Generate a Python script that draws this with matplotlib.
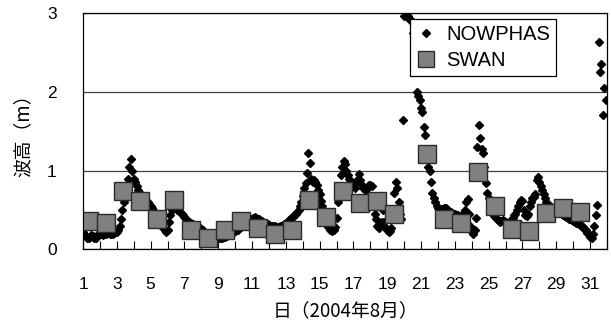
import numpy as np
import matplotlib
matplotlib.use("Agg")
from matplotlib import pyplot as plt

plt.rcParams['font.family'] = ['Liberation Sans', 'Noto Sans CJK JP']

# NOWPHAS observed wave height (m), every 2 hours, one row per day (Aug 2004)
nowphas_hs = [
    [0.22, 0.19, 0.17, 0.15, 0.14, 0.16, 0.18, 0.17, 0.15, 0.14, 0.17, 0.20],  # 1
    [0.21, 0.20, 0.18, 0.19, 0.20, 0.22, 0.21, 0.20, 0.19, 0.20, 0.21, 0.22],  # 2
    [0.22, 0.25, 0.30, 0.38, 0.50, 0.60, 0.68, 0.76, 0.90, 1.05, 1.15, 1.00],  # 3
    [0.90, 0.85, 0.80, 0.75, 0.72, 0.70, 0.68, 0.66, 0.64, 0.62, 0.60, 0.57],  # 4
    [0.55, 0.52, 0.50, 0.46, 0.42, 0.40, 0.37, 0.34, 0.30, 0.27, 0.24, 0.22],  # 5
    [0.25, 0.35, 0.44, 0.50, 0.52, 0.53, 0.52, 0.50, 0.49, 0.47, 0.45, 0.43],  # 6
    [0.41, 0.39, 0.37, 0.35, 0.34, 0.33, 0.32, 0.31, 0.30, 0.29, 0.28, 0.27],  # 7
    [0.26, 0.24, 0.22, 0.20, 0.19, 0.18, 0.17, 0.16, 0.15, 0.15, 0.14, 0.14],  # 8
    [0.14, 0.14, 0.15, 0.15, 0.16, 0.16, 0.17, 0.18, 0.19, 0.20, 0.21, 0.22],  # 9
    [0.23, 0.24, 0.25, 0.27, 0.28, 0.30, 0.31, 0.33, 0.34, 0.35, 0.37, 0.38],  # 10
    [0.39, 0.40, 0.41, 0.40, 0.39, 0.38, 0.37, 0.36, 0.35, 0.34, 0.33, 0.32],  # 11
    [0.31, 0.30, 0.30, 0.29, 0.29, 0.28, 0.28, 0.28, 0.29, 0.30, 0.31, 0.32],  # 12
    [0.33, 0.35, 0.37, 0.38, 0.40, 0.41, 0.43, 0.45, 0.48, 0.50, 0.55, 0.60],  # 13
    [0.68, 0.78, 0.84, 0.97, 1.22, 1.10, 0.90, 0.85, 0.88, 0.86, 0.82, 0.75],  # 14
    [0.70, 0.62, 0.55, 0.47, 0.40, 0.33, 0.28, 0.25, 0.24, 0.23, 0.24, 0.28],  # 15
    [0.40, 0.60, 0.80, 0.95, 1.05, 1.12, 1.08, 1.00, 0.95, 0.90, 0.85, 0.82],  # 16
    [0.80, 0.78, 0.85, 0.90, 0.96, 0.88, 0.82, 0.78, 0.75, 0.76, 0.80, 0.82],  # 17
    [0.82, 0.80, 0.60, 0.45, 0.38, 0.30, 0.27, 0.30, 0.35, 0.50, 0.35, 0.27],  # 18
    [0.24, 0.22, 0.23, 0.27, 0.40, 0.72, 0.85, 0.78, 0.60, 0.45, 0.38, 1.64],  # 19
    [2.96, 2.98, 2.95, 2.97, 2.93, 2.90, 2.75, 2.56, 2.28, 2.00, 1.95, 1.90],  # 20
    [1.80, 1.75, 1.55, 1.45, 1.20, 1.05, 1.00, 0.85, 0.72, 0.65, 0.60, 0.55],  # 21
    [0.52, 0.50, 0.50, 0.51, 0.52, 0.53, 0.52, 0.50, 0.48, 0.47, 0.46, 0.45],  # 22
    [0.45, 0.44, 0.43, 0.42, 0.42, 0.43, 0.45, 0.50, 0.60, 0.64, 0.45, 0.30],  # 23
    [0.22, 0.20, 0.25, 0.40, 1.30, 1.58, 1.42, 1.28, 1.22, 1.05, 0.84, 0.72],  # 24
    [0.65, 0.58, 0.52, 0.47, 0.42, 0.40, 0.38, 0.36, 0.35, 0.36, 0.37, 0.36],  # 25
    [0.35, 0.34, 0.34, 0.35, 0.37, 0.40, 0.43, 0.45, 0.50, 0.55, 0.60, 0.63],  # 26
    [0.62, 0.50, 0.43, 0.42, 0.45, 0.55, 0.60, 0.65, 0.67, 0.70, 0.88, 0.92],  # 27
    [0.85, 0.80, 0.75, 0.70, 0.65, 0.60, 0.58, 0.56, 0.54, 0.52, 0.50, 0.50],  # 28
    [0.49, 0.48, 0.47, 0.46, 0.45, 0.43, 0.42, 0.41, 0.40, 0.39, 0.38, 0.37],  # 29
    [0.36, 0.35, 0.34, 0.33, 0.32, 0.31, 0.30, 0.28, 0.26, 0.24, 0.21, 0.19],  # 30
    [0.16, 0.15, 0.20, 0.29, 0.44, 0.56, 2.64, 2.25, 2.35, 1.71, 2.05, 1.90],  # 31
]

# SWAN computed wave height (m), once a day at 09:00 (no value on the 20th and 31st)
swan_day = [1, 2, 3, 4, 5, 6, 7, 8, 9, 10, 11, 12, 13, 14, 15, 16, 17, 18, 19,
            21, 22, 23, 24, 25, 26, 27, 28, 29, 30]
swan_hour = 9
swan_hs = [0.36, 0.34, 0.745, 0.61, 0.38, 0.63, 0.25, 0.14, 0.245, 0.36, 0.27,
           0.19, 0.24, 0.63, 0.41, 0.745, 0.585, 0.61, 0.445,
           1.21, 0.38, 0.34, 0.98, 0.555, 0.26, 0.23, 0.465, 0.52, 0.48]

x_labels = [str(d) for d in range(1, 32, 2)]

nowphas = np.array(nowphas_hs)
n_days, per_day = nowphas.shape
t_obs = (np.arange(1, n_days + 1)[:, None] + np.arange(per_day)[None, :] / per_day).ravel()
t_swan = np.array(swan_day) + swan_hour / 24

fig = plt.figure(figsize=(6.11, 3.31), dpi=100)
ax = fig.add_axes([83 / 611, 1 - 249.3 / 331, 524 / 611, 236 / 331])

ax.plot(t_obs, nowphas.ravel(), 'D', color='black', markersize=3.6,
        linestyle='none', label='NOWPHAS')
ax.plot(t_swan, swan_hs, 's', markersize=13, markerfacecolor='#808080',
        markeredgecolor='#2a2a2a', markeredgewidth=1.0, linestyle='none',
        label='SWAN')

ax.set_xlim(1, 32)
ax.set_ylim(0, 3)
ax.set_yticks([0, 1, 2, 3])
ax.set_yticklabels(['0', '1', '2', '3'])
ax.set_xticks(range(1, 32, 2))
ax.set_xticklabels(x_labels)
ax.set_xticks(range(1, 33), minor=True)
ax.tick_params(axis='x', which='both', direction='in', length=6, width=0.8,
               pad=20, labelsize=12.5)
ax.tick_params(axis='y', length=0, pad=19, labelsize=12.5)
ax.yaxis.grid(True, color='#404040', linewidth=0.9)
ax.set_axisbelow(True)
for s in ax.spines.values():
    s.set_color('black')
    s.set_linewidth(0.9)

ax.set_ylabel('波高（m）', family=['Noto Sans CJK JP'], fontsize=13.5)
ax.yaxis.set_label_coords(-0.095, 0.5)
ax.set_xlabel('日（2004年8月）', family=['Noto Sans CJK JP'], fontsize=13.5)
ax.xaxis.set_label_coords(0.5, -0.215)

leg = ax.legend(loc='upper right', bbox_to_anchor=(0.903, 0.976), fontsize=14.5,
                frameon=True, fancybox=False, shadow=False, framealpha=1,
                edgecolor='black', borderpad=0.3, labelspacing=0.35,
                handlelength=1.0, handletextpad=0.5, borderaxespad=0)
leg.get_frame().set_linewidth(0.9)
leg.legend_handles[1].set_markersize(11)

fig.savefig('out.png', dpi=100)
